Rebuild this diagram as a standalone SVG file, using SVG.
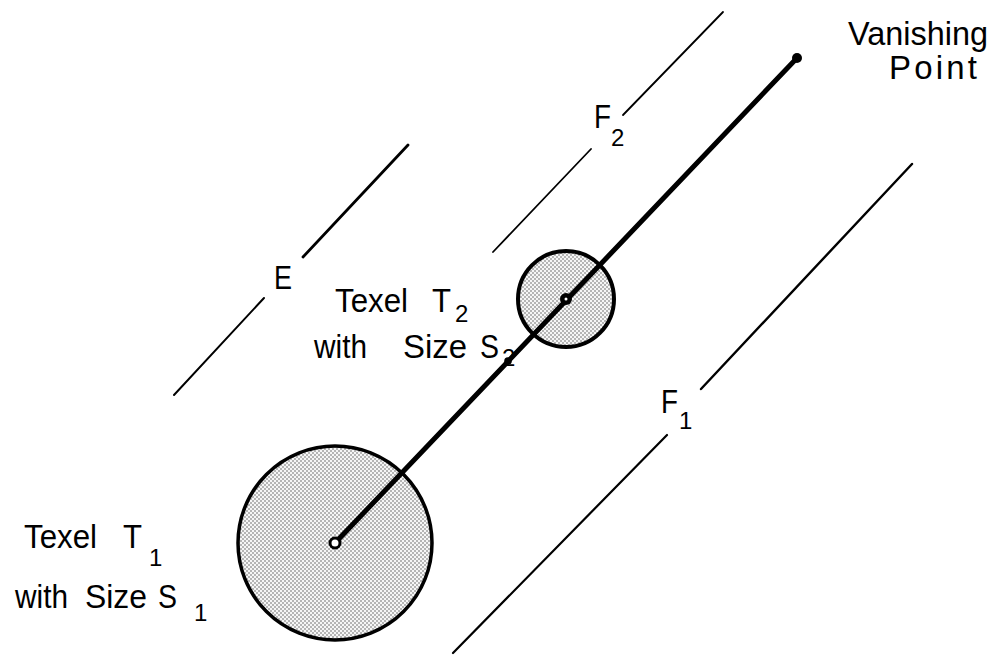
<svg xmlns="http://www.w3.org/2000/svg" width="993" height="655" viewBox="0 0 993 655">
<defs>
<pattern id="stip" width="4" height="4" patternUnits="userSpaceOnUse">
<rect width="4" height="4" fill="#f6f6f6"/>
<circle cx="1" cy="1" r="0.75" fill="#555"/>
<circle cx="3" cy="3" r="0.75" fill="#555"/>
</pattern>
<style>
.ln{stroke:#000;stroke-linecap:round;fill:none}
.t{font-family:"Liberation Sans",Arial,sans-serif;font-size:33px;fill:#000}
.s{font-family:"Liberation Sans",Arial,sans-serif;font-size:24px;fill:#000}
.circ{fill:url(#stip);stroke:#000}
</style>
</defs>
<rect width="993" height="655" fill="#fff"/>

<g id="edges">
<line class="ln" x1="303" y1="257" x2="408" y2="145" stroke-width="2.8"/>
<line class="ln" x1="264" y1="298" x2="174" y2="395" stroke-width="2"/>
<line class="ln" x1="623" y1="115" x2="723" y2="12" stroke-width="1.8"/>
<line class="ln" x1="591" y1="149" x2="493" y2="252" stroke-width="1.8"/>
<line class="ln" x1="701" y1="389" x2="912" y2="164" stroke-width="2.4"/>
<line class="ln" x1="667" y1="435" x2="453" y2="653" stroke-width="2.2"/>
</g>

<g id="texel1">
<circle class="circ" cx="335" cy="543" r="97" stroke-width="3.5"/>
</g>
<g id="texel2">
<circle class="circ" cx="566" cy="299" r="48" stroke-width="4"/>
</g>

<g id="connectors">
<line class="ln" x1="335" y1="543" x2="797" y2="58" stroke-width="5"/>
<circle cx="508" cy="361" r="3.8" fill="#000"/>
</g>

<g id="vanishing-point">
<circle cx="797" cy="58" r="5" fill="#000"/>
<text class="t" x="848" y="45" textLength="140" lengthAdjust="spacingAndGlyphs">Vanishing</text>
<text class="t" x="889" y="79" textLength="88" lengthAdjust="spacing">Point</text>
</g>

<g id="centers">
<circle cx="335" cy="543" r="5" fill="#fff" stroke="#000" stroke-width="3"/>
<circle cx="566" cy="299" r="6" fill="#000"/>
<circle cx="566" cy="299" r="1.5" fill="#fff"/>
</g>

<g id="label-E">
<text class="t" x="274" y="289" textLength="18" lengthAdjust="spacingAndGlyphs">E</text>
</g>
<g id="label-F2">
<text class="t" x="594" y="128" textLength="17" lengthAdjust="spacingAndGlyphs">F</text>
<text class="s" x="611" y="146">2</text>
</g>
<g id="label-F1">
<text class="t" x="661" y="413" textLength="17" lengthAdjust="spacingAndGlyphs">F</text>
<text class="s" x="679" y="429">1</text>
</g>

<g id="label-T2">
<text class="t" x="335" y="312" textLength="73" lengthAdjust="spacingAndGlyphs">Texel</text>
<text class="t" x="432" y="312" textLength="19" lengthAdjust="spacingAndGlyphs">T</text>
<text class="s" x="455" y="322">2</text>
<text class="t" x="314" y="358" textLength="53" lengthAdjust="spacingAndGlyphs">with</text>
<text class="t" x="403" y="358" textLength="64" lengthAdjust="spacingAndGlyphs">Size</text>
<text class="t" x="480" y="358" textLength="19" lengthAdjust="spacingAndGlyphs">S</text>
<text class="s" x="502" y="366">2</text>
</g>

<g id="label-T1">
<text class="t" x="24" y="548" textLength="73" lengthAdjust="spacingAndGlyphs">Texel</text>
<text class="t" x="123" y="548" textLength="19" lengthAdjust="spacingAndGlyphs">T</text>
<text class="s" x="149" y="566">1</text>
<text class="t" x="15" y="608" textLength="53" lengthAdjust="spacingAndGlyphs">with</text>
<text class="t" x="85" y="608" textLength="62" lengthAdjust="spacingAndGlyphs">Size</text>
<text class="t" x="158" y="608" textLength="19" lengthAdjust="spacingAndGlyphs">S</text>
<text class="s" x="194" y="621">1</text>
</g>
</svg>
